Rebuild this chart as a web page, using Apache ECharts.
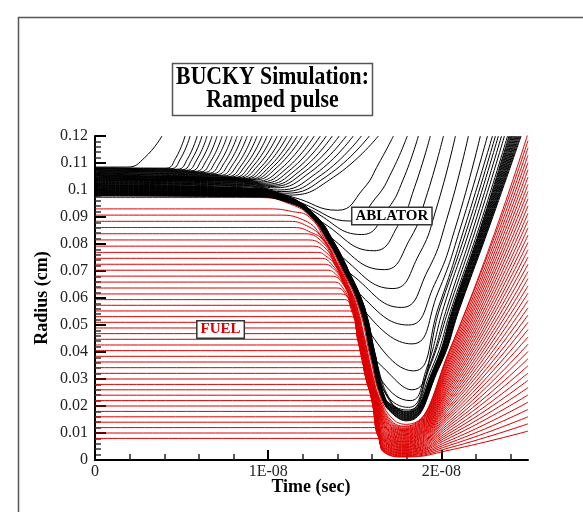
<!DOCTYPE html>
<html><head><meta charset="utf-8">
<script src="https://cdn.jsdelivr.net/npm/echarts@6/dist/echarts.min.js"></script>
<style>html,body{margin:0;padding:0;background:#fff}#c{width:583px;height:512px}</style>
</head><body><div id="c"></div>
<script>
// time in units of 1E-08 s, radius in cm
const xMajorTicks = [0, 1, 2];
const xTickLabels = ['0', '1E-08', '2E-08'];
const yMajorTicks = [0, 0.01, 0.02, 0.03, 0.04, 0.05, 0.06, 0.07, 0.08, 0.09, 0.10, 0.11, 0.12];
const yTickLabels = ['0', '0.01', '0.02', '0.03', '0.04', '0.05', '0.06', '0.07', '0.08', '0.09', '0.1', '0.11', '0.12'];

// FUEL zone boundaries (red)
const fuelLines = [
[[0,.0972],[.95,.0972],[1.13,.0947],[1.245,.090],[1.34,.081],[1.415,.072],[1.52,.057],[1.59,.038],[1.65,.023],[1.72,.0152],[1.80,.0132],[2.05,.041],[2.5,.121]],
[[0,.093],[1.0,.093],[1.14,.092],[1.237,.090],[1.332,.081],[1.407,.072],[1.462,.065],[1.512,.057],[1.557,.045],[1.602,.032],[1.642,.023],[1.712,.0145],[1.79,.0125],[2.05,.0411],[2.5,.1183]],
[[0,.0907],[1.05,.0907],[1.20,.089],[1.328,.081],[1.403,.072],[1.458,.065],[1.508,.057],[1.553,.045],[1.598,.032],[1.638,.023],[1.708,.0142],[1.79,.0122],[2.05,.0401],[2.5,.1156]],
[[0,.0884],[1.10,.0884],[1.23,.0865],[1.325,.081],[1.40,.072],[1.455,.065],[1.505,.057],[1.55,.045],[1.595,.032],[1.635,.023],[1.705,.0138],[1.79,.0118],[2.05,.0391],[2.5,.1129]],
[[0,.0861],[1.145,.0861],[1.25,.0842],[1.322,.081],[1.397,.072],[1.452,.065],[1.502,.057],[1.547,.045],[1.592,.032],[1.632,.023],[1.702,.0135],[1.79,.0115],[2.05,.0381],[2.5,.1102]],
[[0,.0838],[1.19,.0838],[1.30,.0815],[1.394,.072],[1.449,.065],[1.499,.057],[1.544,.045],[1.589,.032],[1.629,.023],[1.699,.0132],[1.79,.0112],[2.05,.0372],[2.5,.1075]],
[[0,.0815],[1.225,.0815],[1.32,.079],[1.391,.072],[1.446,.065],[1.496,.057],[1.541,.045],[1.586,.032],[1.626,.023],[1.696,.0129],[1.79,.0109],[2.05,.0363],[2.5,.1048]],
[[0,.0792],[1.255,.0792],[1.335,.0768],[1.389,.072],[1.444,.065],[1.494,.057],[1.539,.045],[1.584,.032],[1.624,.023],[1.694,.0126],[1.79,.0106],[2.05,.0353],[2.5,.1021]],
[[0,.0769],[1.28,.0769],[1.34,.0752],[1.387,.072],[1.442,.065],[1.492,.057],[1.537,.045],[1.582,.032],[1.622,.023],[1.692,.0123],[1.79,.0103],[2.05,.0344],[2.5,.0995]],
[[0,.0747],[1.30,.0747],[1.37,.0722],[1.44,.065],[1.49,.057],[1.535,.045],[1.58,.032],[1.62,.023],[1.69,.012],[1.79,.010],[2.05,.0334],[2.5,.0968]],
[[0,.0725],[1.32,.0725],[1.385,.0703],[1.438,.065],[1.488,.057],[1.533,.045],[1.578,.032],[1.618,.023],[1.688,.0117],[1.79,.0097],[2.05,.0325],[2.5,.0941]],
[[0,.0703],[1.34,.0703],[1.395,.0685],[1.436,.065],[1.486,.057],[1.531,.045],[1.576,.032],[1.616,.023],[1.686,.0114],[1.79,.0094],[2.05,.0315],[2.5,.0914]],
[[0,.0681],[1.36,.0681],[1.434,.065],[1.484,.057],[1.529,.045],[1.574,.032],[1.614,.023],[1.684,.0111],[1.79,.0091],[2.05,.0306],[2.5,.0887]],
[[0,.0659],[1.38,.0659],[1.43,.0638],[1.482,.057],[1.527,.045],[1.572,.032],[1.612,.023],[1.682,.0108],[1.79,.0088],[2.05,.0296],[2.5,.086]],
[[0,.0637],[1.40,.0637],[1.44,.062],[1.48,.057],[1.525,.045],[1.57,.032],[1.61,.023],[1.68,.0105],[1.79,.0085],[2.05,.0287],[2.5,.0833]],
[[0,.0615],[1.42,.0615],[1.478,.057],[1.523,.045],[1.568,.032],[1.608,.023],[1.678,.0102],[1.79,.0082],[2.05,.0277],[2.5,.0806]],
[[0,.0594],[1.44,.0594],[1.478,.056],[1.521,.045],[1.566,.032],[1.606,.023],[1.676,.010],[1.79,.008],[2.05,.0269],[2.5,.0779]],
[[0,.0573],[1.455,.0573],[1.519,.045],[1.564,.032],[1.604,.023],[1.674,.0097],[1.79,.0077],[2.05,.0259],[2.5,.0752]],
[[0,.0552],[1.47,.0552],[1.518,.045],[1.563,.032],[1.603,.023],[1.673,.0094],[1.79,.0074],[2.05,.025],[2.5,.0725]],
[[0,.0531],[1.48,.0531],[1.517,.045],[1.562,.032],[1.602,.023],[1.672,.0091],[1.79,.0071],[2.05,.024],[2.5,.0698]],
[[0,.051],[1.49,.051],[1.516,.045],[1.561,.032],[1.601,.023],[1.671,.0088],[1.79,.0068],[2.05,.0231],[2.5,.0672]],
[[0,.0489],[1.50,.0489],[1.515,.045],[1.56,.032],[1.60,.023],[1.67,.0086],[1.79,.0066],[2.05,.0222],[2.5,.0645]],
[[0,.0468],[1.51,.0468],[1.559,.032],[1.599,.023],[1.669,.0083],[1.79,.0063],[2.05,.0213],[2.5,.0618]],
[[0,.0447],[1.52,.0447],[1.558,.032],[1.598,.023],[1.668,.008],[1.79,.006],[2.05,.0203],[2.5,.0591]],
[[0,.0426],[1.53,.0426],[1.558,.032],[1.598,.023],[1.668,.0077],[1.79,.0057],[2.05,.0194],[2.5,.0564]],
[[0,.0405],[1.535,.0405],[1.557,.032],[1.597,.023],[1.667,.0074],[1.79,.0054],[2.05,.0184],[2.5,.0537]],
[[0,.0384],[1.545,.0384],[1.597,.023],[1.667,.0071],[1.79,.0051],[2.05,.0175],[2.5,.051]],
[[0,.0363],[1.55,.0363],[1.596,.023],[1.666,.0069],[1.79,.0049],[2.05,.0166],[2.5,.0483]],
[[0,.0342],[1.56,.0342],[1.596,.023],[1.666,.0066],[1.79,.0046],[2.05,.0157],[2.5,.0456]],
[[0,.0321],[1.565,.0321],[1.595,.023],[1.665,.0063],[1.79,.0043],[2.05,.0147],[2.5,.0429]],
[[0,.030],[1.57,.030],[1.595,.023],[1.665,.006],[1.79,.004],[2.05,.0138],[2.5,.0402]],
[[0,.028],[1.58,.028],[1.665,.0058],[1.79,.0038],[2.05,.0129],[2.5,.0375]],
[[0,.026],[1.585,.026],[1.664,.0055],[1.79,.0035],[2.05,.012],[2.5,.0349]],
[[0,.024],[1.59,.024],[1.664,.0052],[1.79,.0032],[2.05,.011],[2.5,.0322]],
[[0,.022],[1.60,.022],[1.664,.0049],[1.79,.0029],[2.05,.0101],[2.5,.0295]],
[[0,.020],[1.605,.020],[1.664,.0047],[1.79,.0027],[2.05,.0092],[2.5,.0268]],
[[0,.018],[1.61,.018],[1.663,.0044],[1.79,.0024],[2.05,.0083],[2.5,.0241]],
[[0,.016],[1.615,.016],[1.663,.0041],[1.79,.0021],[2.05,.0073],[2.5,.0214]],
[[0,.014],[1.62,.014],[1.663,.0039],[1.79,.0019],[2.05,.0064],[2.5,.0187]],
[[0,.012],[1.625,.012],[1.663,.0036],[1.79,.0016],[2.05,.0055],[2.5,.016]],
[[0,.010],[1.63,.010],[1.663,.0033],[1.79,.0013],[2.05,.0046],[2.5,.0134]],
[[0,.008],[1.635,.008],[1.663,.0031],[1.79,.0011],[2.05,.0037],[2.5,.0107]]
];

// ABLATOR: dense imploding shell (black)
const shellLines = [
[[0,.0978],[.9,.0975],[1.13,.0951],[1.25,.090],[1.346,.081],[1.421,.072],[1.526,.057],[1.596,.038],[1.656,.023],[1.72,.017],[1.80,.0145],[1.985,.034],[2.11,.057],[2.28,.087],[2.46,.12]],
[[0,.0979],[.9,.0976],[1.13,.0952],[1.2515,.090],[1.3475,.081],[1.4225,.072],[1.5275,.057],[1.5975,.038],[1.6575,.023],[1.72,.01725],[1.80,.01475],[1.983,.034],[2.107,.057],[2.276,.087],[2.455,.12]],
[[0,.0981],[.9,.0977],[1.13,.0953],[1.253,.090],[1.349,.081],[1.424,.072],[1.529,.057],[1.599,.038],[1.659,.023],[1.72,.0175],[1.80,.015],[1.980,.034],[2.104,.057],[2.272,.087],[2.449,.12]],
[[0,.0982],[.9,.0978],[1.13,.0954],[1.2545,.090],[1.3505,.081],[1.4255,.072],[1.5305,.057],[1.6005,.038],[1.6605,.023],[1.72,.01775],[1.80,.01525],[1.978,.034],[2.101,.057],[2.269,.087],[2.444,.12]],
[[0,.0984],[.9,.0979],[1.13,.0955],[1.256,.090],[1.352,.081],[1.427,.072],[1.532,.057],[1.602,.038],[1.662,.023],[1.72,.018],[1.80,.0155],[1.976,.034],[2.098,.057],[2.265,.087],[2.438,.12]],
[[0,.0985],[.9,.098],[1.13,.0956],[1.2575,.090],[1.3535,.081],[1.4285,.072],[1.5335,.057],[1.6035,.038],[1.6635,.023],[1.72,.01825],[1.80,.01575],[1.974,.034],[2.095,.057],[2.261,.087],[2.433,.12]],
[[0,.0986],[.9,.0981],[1.13,.0957],[1.259,.090],[1.355,.081],[1.43,.072],[1.535,.057],[1.605,.038],[1.665,.023],[1.72,.0185],[1.80,.016],[1.971,.034],[2.091,.057],[2.257,.087],[2.428,.12]],
[[0,.0988],[.9,.0982],[1.13,.0958],[1.2605,.090],[1.3565,.081],[1.4315,.072],[1.5365,.057],[1.6065,.038],[1.6665,.023],[1.72,.01875],[1.80,.01625],[1.969,.034],[2.088,.057],[2.253,.087],[2.422,.12]],
[[0,.0989],[.9,.0983],[1.13,.0959],[1.262,.090],[1.358,.081],[1.433,.072],[1.538,.057],[1.608,.038],[1.668,.023],[1.72,.019],[1.80,.0165],[1.967,.034],[2.085,.057],[2.25,.087],[2.417,.12]],
[[0,.0991],[.9,.0984],[1.13,.096],[1.2635,.090],[1.3595,.081],[1.4345,.072],[1.5395,.057],[1.6095,.038],[1.6695,.023],[1.72,.01925],[1.80,.01675],[1.964,.034],[2.082,.057],[2.246,.087],[2.411,.12]],
[[0,.0992],[.9,.0985],[1.13,.0961],[1.265,.090],[1.361,.081],[1.436,.072],[1.541,.057],[1.611,.038],[1.671,.023],[1.72,.0195],[1.80,.017],[1.962,.034],[2.079,.057],[2.242,.087],[2.406,.12]],
[[0,.0993],[.9,.0986],[1.13,.0962],[1.2665,.090],[1.3625,.081],[1.4375,.072],[1.5425,.057],[1.6125,.038],[1.6725,.023],[1.72,.01975],[1.80,.01725],[1.96,.034],[2.076,.057],[2.238,.087],[2.401,.12]],
[[0,.0995],[.9,.0987],[1.13,.0963],[1.268,.090],[1.364,.081],[1.439,.072],[1.544,.057],[1.614,.038],[1.674,.023],[1.72,.02],[1.80,.0175],[1.957,.034],[2.073,.057],[2.234,.087],[2.395,.12]],
[[0,.0996],[.9,.0988],[1.13,.0964],[1.2695,.090],[1.3655,.081],[1.4405,.072],[1.5455,.057],[1.6155,.038],[1.6755,.023],[1.72,.02025],[1.80,.01775],[1.955,.034],[2.07,.057],[2.231,.087],[2.39,.12]]
];

// ABLATOR: zones ablated from the moving shell (nested V shapes)
const ablatedLines = [
[[0,.102],[.9,.1007],[1.14,.0974],[1.40,.0925],[1.55,.1005],[1.64,.110],[1.723,.12]],
[[0,.1018],[.9,.1006],[1.13,.0972],[1.20,.095],[1.47,.0885],[1.62,.097],[1.715,.107],[1.803,.12]],
[[0,.1017],[.9,.1005],[1.13,.0971],[1.25,.0925],[1.54,.0835],[1.69,.093],[1.78,.104],[1.867,.12]],
[[0,.1015],[.9,.1003],[1.13,.097],[1.2835,.090],[1.30,.0885],[1.61,.0775],[1.76,.088],[1.845,.101],[1.936,.12]],
[[0,.1014],[.9,.1002],[1.13,.097],[1.2825,.090],[1.36,.0825],[1.67,.0705],[1.82,.082],[1.91,.097],[2.012,.12]],
[[0,.1012],[.9,.1001],[1.13,.0969],[1.2815,.090],[1.3775,.081],[1.42,.0755],[1.72,.0635],[1.87,.076],[1.97,.093],[2.081,.12]],
[[0,.1011],[.9,.0999],[1.13,.0969],[1.2805,.090],[1.3765,.081],[1.4515,.072],[1.475,.069],[1.77,.0565],[1.92,.070],[2.03,.089],[2.156,.12]],
[[0,.1009],[.9,.0998],[1.13,.0968],[1.2795,.090],[1.3755,.081],[1.4505,.072],[1.52,.062],[1.81,.050],[1.96,.065],[2.085,.087],[2.225,.12]],
[[0,.1007],[.9,.0997],[1.13,.0967],[1.2785,.090],[1.3745,.081],[1.4495,.072],[1.5545,.057],[1.565,.0545],[1.83,.043],[1.98,.062],[2.115,.087],[2.266,.12]],
[[0,.1006],[.9,.0995],[1.13,.0967],[1.2775,.090],[1.3735,.081],[1.4485,.072],[1.5535,.057],[1.60,.046],[1.84,.033],[1.985,.057],[2.138,.087],[2.295,.12]],
[[0,.1004],[.9,.0994],[1.13,.0966],[1.2765,.090],[1.3725,.081],[1.4475,.072],[1.5525,.057],[1.6225,.038],[1.635,.036],[1.83,.026],[1.995,.057],[2.155,.087],[2.312,.12]],
[[0,.1003],[.9,.0993],[1.13,.0966],[1.2755,.090],[1.3715,.081],[1.4465,.072],[1.5515,.057],[1.6215,.038],[1.66,.029],[1.82,.022],[1.915,.034],[2.015,.057],[2.172,.087],[2.329,.12]],
[[0,.1001],[.9,.0991],[1.13,.0965],[1.2745,.090],[1.3705,.081],[1.4455,.072],[1.5505,.057],[1.6205,.038],[1.68,.0245],[1.81,.0195],[1.925,.034],[2.035,.057],[2.19,.087],[2.347,.12]],
[[0,.0999],[.9,.099],[1.13,.0965],[1.2735,.090],[1.3695,.081],[1.4445,.072],[1.5495,.057],[1.6195,.038],[1.70,.022],[1.81,.0185],[1.93,.034],[2.048,.057],[2.206,.087],[2.364,.12]],
[[0,.0998],[.9,.0989],[1.13,.0964],[1.2725,.090],[1.3685,.081],[1.4435,.072],[1.5485,.057],[1.6185,.038],[1.715,.021],[1.80,.018],[1.945,.034],[2.062,.057],[2.222,.087],[2.382,.12]]
];

// ABLATOR: outer zones blown off early (plume)
const plumeLines = [
[[0,.1085],[.187,.1085],[.287,.112],[.387,.12]],
[[0,.1083],[.41,.1081],[.465,.1117],[.52,.12]],
[[0,.1081],[.437,.1079],[.493,.1115],[.549,.12]],
[[0,.108],[.475,.1077],[.533,.1114],[.59,.12]],
[[0,.1078],[.50,.1075],[.559,.1113],[.618,.12]],
[[0,.1076],[.526,.1073],[.587,.1111],[.647,.12]],
[[0,.1074],[.552,.1071],[.614,.111],[.676,.12]],
[[0,.1072],[.578,.1069],[.642,.1108],[.705,.12]],
[[0,.1071],[.604,.1067],[.669,.1107],[.734,.12]],
[[0,.1069],[.628,.1065],[.696,.1106],[.763,.12]],
[[0,.1067],[.652,.1062],[.722,.1103],[.792,.12]],
[[0,.1065],[.675,.106],[.748,.1102],[.821,.12]],
[[0,.1063],[.698,.1057],[.774,.11],[.85,.12]],
[[0,.1062],[.719,.1054],[.799,.1098],[.879,.12]],
[[0,.106],[.74,.1052],[.824,.1096],[.908,.12]],
[[0,.1058],[.759,.1049],[.848,.1094],[.936,.12]],
[[0,.1056],[.778,.1048],[.872,.1094],[.965,.12]],
[[0,.1054],[.796,.1046],[.895,.1092],[.994,.12]],
[[0,.1053],[.813,.1045],[.918,.1092],[1.023,.12]],
[[0,.1051],[.83,.1044],[.941,.1091],[1.052,.12]],
[[0,.1049],[.846,.1042],[.964,.1089],[1.081,.12]],
[[0,.1047],[.862,.1041],[.986,.1089],[1.11,.12]],
[[0,.1045],[.877,.1039],[1.008,.1087],[1.139,.12]],
[[0,.1044],[.892,.1038],[1.03,.1087],[1.168,.12]],
[[0,.1042],[.907,.1036],[1.052,.1085],[1.197,.12]],
[[0,.104],[.9,.1035],[.926,.1032],[1.079,.1082],[1.231,.12]],
[[0,.1038],[.9,.1033],[.946,.1029],[1.106,.108],[1.266,.12]],
[[0,.1036],[.9,.1031],[.965,.1025],[1.133,.1078],[1.301,.12]],
[[0,.1035],[.9,.1028],[.983,.1021],[1.159,.1075],[1.335,.12]],
[[0,.1033],[.9,.1026],[1.002,.1017],[1.186,.1072],[1.37,.12]],
[[0,.1031],[.9,.1024],[1.015,.1013],[1.213,.1069],[1.41,.12]],
[[0,.1029],[.9,.1021],[1.035,.1008],[1.243,.1066],[1.451,.12]],
[[0,.1027],[.9,.1019],[1.055,.100],[1.273,.106],[1.491,.12]],
[[0,.1026],[.9,.1016],[1.075,.0994],[1.307,.1056],[1.538,.12]],
[[0,.1024],[.9,.1014],[1.095,.0988],[1.34,.1052],[1.584,.12]],
[[0,.1022],[.9,.1011],[1.115,.0981],[1.376,.1047],[1.636,.12]]
];

const fuelLabelAt = [0.725, 0.0483];
const ablatorLabelAt = [1.714, 0.0904];

const serif = '"Liberation Serif", "Times New Roman", serif';
const xMinorTicks = [];
for (let i = 1; i < 13; i++) if (i % 5 !== 0) xMinorTicks.push(+(i * 0.2).toFixed(2));
const yMinorTicks = [];
for (let i = 1; i < 60; i++) if (i % 5 !== 0) yMinorTicks.push(+(i * 0.002).toFixed(3));

const chart = echarts.init(document.getElementById('c'), null, {renderer: 'canvas'});
const series = [];
const mk = (pts, color) => ({
  type: 'line', data: pts, showSymbol: false, symbol: 'none', smooth: 0.5,
  lineStyle: {width: 1, color: color}, silent: true, animation: false,
  emphasis: {disabled: true}, clip: true
});
fuelLines.forEach(p => series.push(mk(p, '#dd0000')));
[shellLines, ablatedLines, plumeLines].forEach(g => g.forEach(p => series.push(mk(p, '#000000'))));

function yLabel(v) {
  for (let i = 0; i < yMajorTicks.length; i++) if (Math.abs(yMajorTicks[i] - v) < 1e-9) return yTickLabels[i];
  return '';
}
function xLabel(v) {
  for (let i = 0; i < xMajorTicks.length; i++) if (Math.abs(xMajorTicks[i] - v) < 1e-9) return xTickLabels[i];
  return '';
}
const lblStyle = {fontFamily: serif, fontSize: 16, color: '#222'};

chart.setOption({
  animation: false,
  backgroundColor: '#fff',
  grid: {left: 95, right: 55, top: 136, bottom: 52, containLabel: false, outerBoundsMode: 'none'},
  xAxis: [
    {type: 'value', min: 0, max: 2.5, position: 'bottom',
     axisLine: {show: true, onZero: false, lineStyle: {color: '#000', width: 2}},
     axisTick: {show: true, inside: true, length: 10, customValues: xMajorTicks, lineStyle: {color: '#000', width: 2}},
     axisLabel: Object.assign({show: true, customValues: xMajorTicks, formatter: xLabel, margin: 4}, lblStyle),
     splitLine: {show: false}},
    {type: 'value', min: 0, max: 2.5, position: 'bottom',
     axisLine: {show: false, onZero: false},
     axisTick: {show: true, inside: true, length: 6, customValues: xMinorTicks, lineStyle: {color: '#222', width: 1.5}},
     axisLabel: {show: false}, splitLine: {show: false}}
  ],
  yAxis: [
    {type: 'value', min: 0, max: 0.12, position: 'left',
     axisLine: {show: true, onZero: false, lineStyle: {color: '#000', width: 2}},
     axisTick: {show: true, inside: true, length: 11, customValues: yMajorTicks, lineStyle: {color: '#000', width: 2}},
     axisLabel: Object.assign({show: true, customValues: yMajorTicks, formatter: yLabel, margin: 7}, lblStyle),
     splitLine: {show: false}},
    {type: 'value', min: 0, max: 0.12, position: 'left',
     axisLine: {show: false, onZero: false},
     axisTick: {show: true, inside: true, length: 6, customValues: yMinorTicks, lineStyle: {color: '#333', width: 1.5}},
     axisLabel: {show: false}, splitLine: {show: false}}
  ],
  series: series
});

const fp = chart.convertToPixel({gridIndex: 0}, fuelLabelAt);
const ap = chart.convertToPixel({gridIndex: 0}, ablatorLabelAt);
const boxText = (x, y, text, color) => ({
  type: 'text', x: x, y: y, z: 100,
  style: {text: text, font: 'bold 15px ' + serif, fill: color,
    align: 'center', verticalAlign: 'middle', textAlign: 'center', textVerticalAlign: 'middle',
    backgroundColor: '#fff', borderColor: '#333', borderWidth: 1.5, padding: [1, 3, 0, 3]}
});
const plainText = (x, y, text, font, rot, sx) => ({
  type: 'text', x: x, y: y, rotation: rot || 0, scaleX: sx || 1, z: 100,
  style: {text: text, font: font, fill: '#000',
    align: 'center', verticalAlign: 'middle', textAlign: 'center', textVerticalAlign: 'middle'}
});

chart.setOption({
  graphic: [
    {type: 'polyline', z: 100, shape: {points: [[18.5, 512], [18.5, 17.5], [583, 17.5]]}, style: {stroke: '#555', lineWidth: 1.5, fill: null}},
    {type: 'rect', z: 100, shape: {x: 172.5, y: 63.5, width: 200, height: 52}, style: {fill: '#fff', stroke: '#555', lineWidth: 1.5}},
    plainText(272.5, 78, 'BUCKY Simulation:', 'bold 25px ' + serif, 0, 0.87),
    plainText(272.5, 101, 'Ramped pulse', 'bold 25px ' + serif, 0, 0.87),
    plainText(311, 487, 'Time (sec)', 'bold 18px ' + serif),
    plainText(42, 298, 'Radius (cm)', 'bold 18px ' + serif, Math.PI / 2),
    boxText(fp[0], fp[1], 'FUEL', '#dd0000'),
    boxText(ap[0], ap[1], 'ABLATOR', '#000')
  ]
});
</script></body></html>
